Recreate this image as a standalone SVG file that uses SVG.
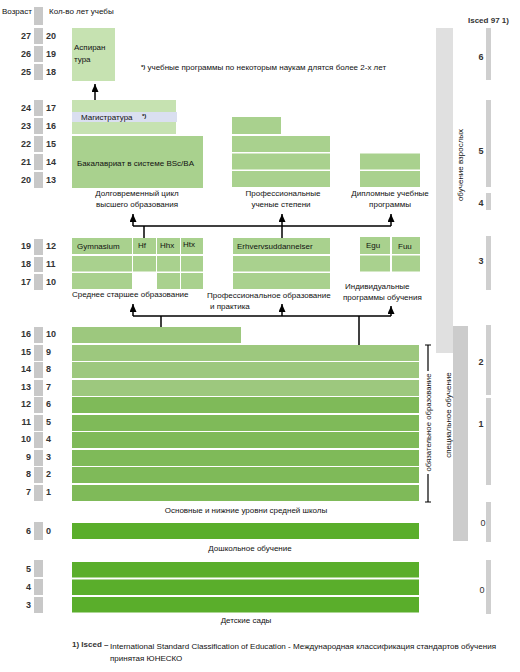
<svg xmlns="http://www.w3.org/2000/svg" width="520" height="672" viewBox="0 0 520 672">
<style>
text{font-family:"Liberation Sans",Arial,sans-serif;fill:#111;font-size:8px}
.num{font-size:9px;font-weight:bold;fill:#333}
.age{text-anchor:end}
.gb{fill:#c8c8c8}
.l1{fill:#c6e2b1}
.l2{fill:#a9d18e}
.p1{fill:#9dc87e}
.p2{fill:#7fba59}
.p3{fill:#5aae2b}
.bar{fill:#cfcfcf}
.lv{font-size:9px;font-weight:bold;fill:#333;text-anchor:middle}
.c{text-anchor:middle}
.ln{stroke:#000;stroke-width:1.5;fill:none}
</style>
<defs>
<marker id="ah" viewBox="0 0 8 7" refX="8" refY="3.5" markerWidth="8" markerHeight="7" markerUnits="userSpaceOnUse" orient="auto">
<path d="M0,0 L8,3.5 L0,7 z" fill="#000"/>
</marker>
</defs>
<rect width="520" height="672" fill="#fff"/>

<g id="header">
<text x="2" y="14">Возраст</text>
<rect class="gb" x="34" y="7" width="9" height="18"/>
<text x="49" y="14">Кол-во лет учебы</text>
<text x="468" y="23" style="font-weight:bold;fill:#333">Isced 97 1)</text>
</g>

<g id="scale">
<rect class="gb" x="34" y="28" width="9" height="16"/><text class="num age" x="31" y="39">27</text><text class="num" x="46" y="39">20</text>
<rect class="gb" x="34" y="46" width="9" height="16"/><text class="num age" x="31" y="57">26</text><text class="num" x="46" y="57">19</text>
<rect class="gb" x="34" y="64" width="9" height="16"/><text class="num age" x="31" y="75">25</text><text class="num" x="46" y="75">18</text>
<rect class="gb" x="34" y="100" width="9" height="16"/><text class="num age" x="31" y="111">24</text><text class="num" x="46" y="111">17</text>
<rect class="gb" x="34" y="118" width="9" height="16"/><text class="num age" x="31" y="129">23</text><text class="num" x="46" y="129">16</text>
<rect class="gb" x="34" y="136" width="9" height="16"/><text class="num age" x="31" y="147">22</text><text class="num" x="46" y="147">15</text>
<rect class="gb" x="34" y="154" width="9" height="16"/><text class="num age" x="31" y="165">21</text><text class="num" x="46" y="165">14</text>
<rect class="gb" x="34" y="172" width="9" height="16"/><text class="num age" x="31" y="183">20</text><text class="num" x="46" y="183">13</text>
<rect class="gb" x="34" y="239" width="9" height="16"/><text class="num age" x="31" y="249">19</text><text class="num" x="46" y="249">12</text>
<rect class="gb" x="34" y="257" width="9" height="15"/><text class="num age" x="31" y="267">18</text><text class="num" x="46" y="267">11</text>
<rect class="gb" x="34" y="274" width="9" height="16"/><text class="num age" x="31" y="285">17</text><text class="num" x="46" y="285">10</text>
<rect class="gb" x="34" y="327" width="9" height="16"/><text class="num age" x="31" y="337">16</text><text class="num" x="46" y="337">10</text>
<rect class="gb" x="34" y="345" width="9" height="16"/><text class="num age" x="31" y="355">15</text><text class="num" x="46" y="355">9</text>
<rect class="gb" x="34" y="362" width="9" height="16"/><text class="num age" x="31" y="372">14</text><text class="num" x="46" y="372">8</text>
<rect class="gb" x="34" y="380" width="9" height="16"/><text class="num age" x="31" y="390">13</text><text class="num" x="46" y="390">7</text>
<rect class="gb" x="34" y="397" width="9" height="16"/><text class="num age" x="31" y="407">12</text><text class="num" x="46" y="407">6</text>
<rect class="gb" x="34" y="415" width="9" height="16"/><text class="num age" x="31" y="425">11</text><text class="num" x="46" y="425">5</text>
<rect class="gb" x="34" y="432" width="9" height="16"/><text class="num age" x="31" y="442">10</text><text class="num" x="46" y="442">4</text>
<rect class="gb" x="34" y="450" width="9" height="16"/><text class="num age" x="31" y="460">9</text><text class="num" x="46" y="460">3</text>
<rect class="gb" x="34" y="467" width="9" height="16"/><text class="num age" x="31" y="477">8</text><text class="num" x="46" y="477">2</text>
<rect class="gb" x="34" y="485" width="9" height="16"/><text class="num age" x="31" y="495">7</text><text class="num" x="46" y="495">1</text>
<rect class="gb" x="34" y="522" width="9" height="18"/><text class="num age" x="31" y="534">6</text><text class="num" x="46" y="534">0</text>
<rect class="gb" x="34" y="560" width="9" height="17"/><text class="num age" x="31" y="572">5</text>
<rect class="gb" x="34" y="579" width="9" height="16"/><text class="num age" x="31" y="590">4</text>
<rect class="gb" x="34" y="597" width="9" height="16"/><text class="num age" x="31" y="608">3</text>
</g>

<g id="aspirantura">
<rect class="l1" x="72" y="28" width="43" height="53"/>
<text x="74" y="50">Аспиран</text>
<text x="74" y="62">тура</text>
</g>
<text x="141" y="70"><tspan style="font-size:6px;font-weight:bold" dy="-1">*)</tspan><tspan dy="1"> учебные программы по некоторым наукам длятся более 2-х лет</tspan></text>

<g id="magistratura">
<rect class="l1" x="72" y="100" width="104" height="34"/>
<rect fill="#dadff0" x="72" y="112" width="105" height="10"/>
<text x="81" y="120">Магистратура</text>
<text x="142" y="118" style="font-size:6px;font-weight:bold">*)</text>
</g>

<g id="bakalavriat">
<rect class="l2" x="72" y="136" width="131" height="52"/>
<text x="77" y="166">Бакалавриат  в системе BSc/BA</text>
<text class="c" x="137" y="196">Долговременный цикл</text>
<text class="c" x="137" y="207">высшего образования</text>
</g>

<g id="prof-degrees">
<rect class="l2" x="232" y="117" width="49" height="17"/>
<rect class="l2" x="232" y="136" width="98" height="16"/>
<rect class="l2" x="232" y="153.5" width="98" height="16"/>
<rect class="l2" x="232" y="171" width="98" height="16"/>
<text class="c" x="283" y="196">Профессиональные</text>
<text class="c" x="281" y="207">ученые степени</text>
</g>

<g id="diploma">
<rect class="l2" x="360" y="153.5" width="60" height="16"/>
<rect class="l2" x="360" y="171" width="60" height="16"/>
<text class="c" x="390" y="196">Дипломные учебные</text>
<text class="c" x="390" y="207">программы</text>
</g>

<g id="upper-secondary">
<rect class="l2" x="72" y="238" width="60" height="16"/>
<rect class="l2" x="133" y="238" width="23" height="16"/>
<rect class="l2" x="157" y="238" width="23" height="16"/>
<rect class="l2" x="181" y="238" width="22" height="16"/>
<rect class="l2" x="72" y="256" width="60" height="15.5"/>
<rect class="l2" x="133" y="256" width="23" height="15.5"/>
<rect class="l2" x="157" y="256" width="23" height="15.5"/>
<rect class="l2" x="181" y="256" width="22" height="15.5"/>
<rect class="l2" x="72" y="273" width="60" height="16"/>
<rect class="l2" x="157" y="273" width="23" height="16"/>
<rect class="l2" x="181" y="273" width="22" height="16"/>
<text x="77" y="249">Gymnasium</text>
<text x="138" y="248">Hf</text>
<text x="160" y="248">Hhx</text>
<text x="183" y="247">Htx</text>
<text x="72" y="297">Среднее старшее образование</text>
</g>

<g id="vocational">
<rect class="l2" x="233" y="238" width="97" height="16"/>
<rect class="l2" x="233" y="256" width="97" height="15.5"/>
<rect class="l2" x="233" y="273" width="97" height="16"/>
<text x="237" y="249">Erhvervsuddannelser</text>
<text x="207" y="298">Профессиональное образование</text>
<text x="210" y="309">и практика</text>
</g>

<g id="individual">
<rect class="l2" x="360" y="237" width="30" height="17"/>
<rect class="l2" x="392" y="237" width="28" height="17"/>
<rect class="l2" x="360" y="255.5" width="30" height="16"/>
<rect class="l2" x="392" y="255.5" width="28" height="16"/>
<text x="366" y="248">Egu</text>
<text x="398" y="249">Fuu</text>
<text x="345" y="289">Индивидуальные</text>
<text x="343" y="300">программы обучения</text>
</g>

<g id="primary">
<rect class="p1" x="72" y="327" width="169" height="16"/>
<rect class="p1" x="72" y="345" width="347" height="16"/>
<rect class="p1" x="72" y="362" width="347" height="16"/>
<rect class="p1" x="72" y="380" width="347" height="16"/>
<rect class="p2" x="72" y="397" width="347" height="16"/>
<rect class="p2" x="72" y="415" width="347" height="16"/>
<rect class="p2" x="72" y="432" width="347" height="16"/>
<rect class="p2" x="72" y="450" width="347" height="16"/>
<rect class="p2" x="72" y="467" width="347" height="16"/>
<rect class="p2" x="72" y="485" width="347" height="16"/>
<text class="c" x="246" y="513">Основные и нижние уровни средней школы</text>
</g>

<g id="compulsory">
<path class="ln" d="M425,345 H431 M428,345 V371 M428,474 V502 M425,502 H431" style="stroke-width:1.2"/>
<text class="c" transform="translate(431,422.5) rotate(-90)" textLength="98" lengthAdjust="spacingAndGlyphs">обязательное образование</text>
</g>

<g id="preschool">
<rect class="p3" x="72" y="523" width="347" height="16"/>
<text class="c" x="250" y="551">Дошкольное обучение</text>
</g>

<g id="kindergarten">
<rect class="p3" x="72" y="562" width="347" height="15.5"/>
<rect class="p3" x="72" y="579.5" width="347" height="15.5"/>
<rect class="p3" x="72" y="597" width="347" height="15.5"/>
<text class="c" x="246" y="623">Детские сады</text>
</g>

<g id="adult-education">
<rect fill="#e0e0e0" x="436" y="28" width="17" height="325"/>
<text class="c" transform="translate(463,165) rotate(-90)">обучение взрослых</text>
</g>

<g id="special-education">
<rect fill="#cccccc" x="453" y="326" width="15" height="215"/>
<text class="c" transform="translate(451,415) rotate(-90)">специальное обучение</text>
</g>

<g id="isced">
<rect class="bar" x="486" y="28" width="5" height="52"/><text class="lv" x="481" y="60">6</text>
<rect class="bar" x="486" y="100" width="5" height="87"/><text class="lv" x="481" y="154">5</text>
<rect class="bar" x="486" y="193" width="5" height="17"/><text class="lv" x="481" y="206">4</text>
<rect class="bar" x="486" y="236" width="5" height="54"/><text class="lv" x="481" y="264">3</text>
<rect class="bar" x="486" y="325" width="5" height="70"/><text class="lv" x="481" y="365">2</text>
<rect class="bar" x="486" y="398" width="5" height="87"/><text class="lv" x="481" y="427">1</text>
<rect class="bar" x="486" y="502" width="5" height="40"/><text class="lv" x="483" y="526" style="font-weight:normal">0</text>
<rect class="bar" x="486" y="560" width="5" height="54"/><text class="lv" x="482" y="593" style="font-weight:normal">0</text>
</g>

<g id="connectors">
<path class="ln" d="M95,100 V84" marker-end="url(#ah)"/>
<path class="ln" d="M133,226 H391"/>
<path class="ln" d="M133,226 V214" marker-end="url(#ah)"/>
<path class="ln" d="M282,238 V214" marker-end="url(#ah)"/>
<path class="ln" d="M391,226 V214" marker-end="url(#ah)"/>
<path class="ln" d="M144,238 V226"/>
<path class="ln" d="M133,316 H391"/>
<path class="ln" d="M133,316 V304" marker-end="url(#ah)"/>
<path class="ln" d="M282,316 V304" marker-end="url(#ah)"/>
<path class="ln" d="M391,316 V306" marker-end="url(#ah)"/>
<path class="ln" d="M161,327 V316"/>
<path class="ln" d="M359,345 V316"/>
</g>

<g id="footnote">
<text x="72" y="647" style="font-weight:bold;fill:#333">1) Isced –</text>
<text x="110" y="649" textLength="386" lengthAdjust="spacingAndGlyphs">International Standard Classification of Education - Международная классификация стандартов обучения</text>
<text x="110" y="661">принятая ЮНЕСКО</text>
</g>
</svg>
